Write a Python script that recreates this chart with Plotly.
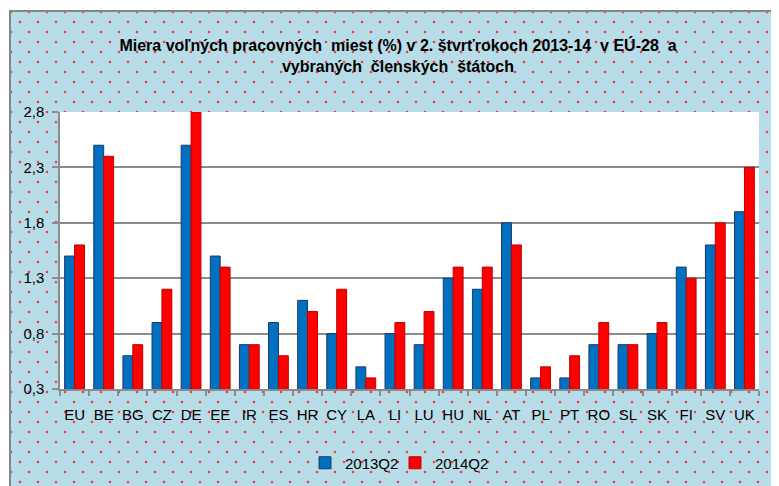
import base64
import plotly.graph_objects as go

categories = ["EU", "BE", "BG", "CZ", "DE", "EE", "IR", "ES", "HR", "CY", "LA", "LI",
              "LU", "HU", "NL", "AT", "PL", "PT", "RO", "SL", "SK", "FI", "SV", "UK"]
values_2013 = [1.5, 2.5, 0.6, 0.9, 2.5, 1.5, 0.7, 0.9, 1.1, 0.8, 0.5, 0.8,
               0.7, 1.3, 1.2, 1.8, 0.4, 0.4, 0.7, 0.7, 0.8, 1.4, 1.6, 1.9]
values_2014 = [1.6, 2.4, 0.7, 1.2, 2.8, 1.4, 0.7, 0.6, 1.0, 1.2, 0.4, 0.9,
               1.0, 1.4, 1.4, 1.6, 0.5, 0.6, 0.9, 0.7, 0.9, 1.3, 1.8, 2.3]
series_names = ["2013Q2", "2014Q2"]
y_tickvals = [0.3, 0.8, 1.3, 1.8, 2.3, 2.8]
y_ticktext = ["0,3", "0,8", "1,3", "1,8", "2,3", "2,8"]

# page body has an 8px margin, so the figure is drawn 8px in from the top-left
OFF = 8
W, H = 779 - OFF, 486 - OFF
ML, MT = 60 - OFF, 112 - OFF
MR, MB = 779 - 759, 486 - 389
PW, PH = W - ML - MR, H - MT - MB

FONT = "Liberation Sans Narrow, Arial Narrow, Liberation Sans, Arial, sans-serif"

svg = f'''<svg xmlns="http://www.w3.org/2000/svg" width="{W}" height="{H}" viewBox="0 0 {W} {H}">
<defs><pattern id="p" patternUnits="userSpaceOnUse" width="18" height="20">
<rect width="18" height="20" fill="#b7dee8"/>
<circle cx="12" cy="14" r="1.3" fill="#f23a48"/>
<circle cx="3" cy="4" r="1.3" fill="#f23a48"/>
</pattern></defs>
<rect width="{W}" height="{H}" fill="#ffffff"/>
<rect x="2" y="3" width="{W + 20}" height="{H + 20}" fill="url(#p)" stroke="#868686" stroke-width="2"/>
</svg>'''
src = "data:image/svg+xml;base64," + base64.b64encode(svg.encode()).decode()

fig = go.Figure()
fig.add_trace(go.Bar(x=categories, y=values_2013, name=series_names[0], legend="legend",
                     showlegend=True,
                     marker=dict(color="#0070c0", line=dict(color="#1f3864", width=1))))
fig.add_trace(go.Bar(x=categories, y=values_2014, name=series_names[1], legend="legend2",
                     showlegend=True,
                     marker=dict(color="#ff0000", line=dict(color="#c00000", width=1))))

legend_common = dict(orientation="h", xanchor="left", y=-(463 - 389) / PH, yanchor="middle",
                     font=dict(size=15), bgcolor="rgba(0,0,0,0)", itemwidth=30)

fig.update_layout(
    width=W, height=H, showlegend=True,
    margin=dict(l=ML, r=MR, t=MT, b=MB, autoexpand=False),
    paper_bgcolor="#ffffff", plot_bgcolor="#ffffff",
    bargap=0.32, bargroupgap=0,
    font=dict(family=FONT, size=15, color="#000000"),
    title=dict(text="Miera voľných pracovných\u00a0 miest (%) v 2. štvrťrokoch 2013-14\u00a0 v EÚ-28\u00a0 a<br>vybraných\u00a0 členských\u00a0 štátoch",
               x=(398 - OFF) / W, xanchor="center", xref="container",
               y=1 - 43 / H, yanchor="top", yref="container",
               font=dict(family=FONT, size=16, weight="bold", color="#000000")),
    legend=dict(x=(305 - OFF - ML) / PW, **legend_common),
    legend2=dict(x=(395 - OFF - ML) / PW, **legend_common),
    images=[dict(source=src, xref="paper", yref="paper",
                 x=-ML / PW, y=1 + MT / PH, sizex=W / PW, sizey=H / PH,
                 xanchor="left", yanchor="top", sizing="stretch", layer="below")],
    shapes=[dict(type="rect", xref="x domain", yref="y domain", x0=0, x1=1, y0=0, y1=1,
                 fillcolor="#ffffff", line=dict(width=0), layer="below")],
)
fig.update_xaxes(showline=True, linecolor="#8c8c8c", linewidth=1.5, automargin=False,
                 ticks="outside", tickson="boundaries", ticklen=5, tickcolor="#8c8c8c",
                 tickwidth=1.5, showgrid=False, tickangle=0, ticklabelstandoff=11,
                 tickfont=dict(size=15))
fig.update_yaxes(range=[0.3, 2.8], tickvals=y_tickvals, ticktext=y_ticktext, automargin=False,
                 showline=True, linecolor="#8c8c8c", linewidth=1.5,
                 ticks="outside", ticklen=6, tickcolor="#8c8c8c", tickwidth=1.5,
                 showgrid=True, gridcolor="#8c8c8c", gridwidth=1.5, ticklabelstandoff=5,
                 zeroline=False, tickfont=dict(size=15))

fig.write_html("out.html")
